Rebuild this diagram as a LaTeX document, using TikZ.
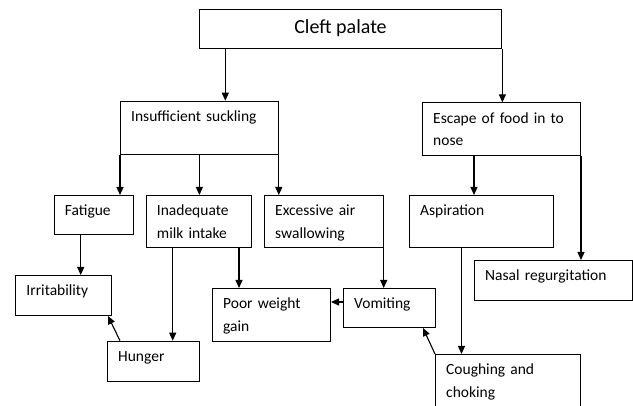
\documentclass[tikz,border=0pt]{standalone}
\usepackage{fontspec}
\setmainfont{Carlito}
\usetikzlibrary{arrows.meta}

\begin{document}
\begin{tikzpicture}[x=1pt, y=-1pt,
  box/.style={draw, line width=1pt, anchor=north west, inner sep=0pt},
  txt/.style={anchor=base west, inner sep=0pt, text width=150pt, align=left, font=\fontsize{15.5}{22.7}\selectfont},
  arr/.style={line width=1.1pt, -{Triangle[length=8pt, width=7pt]}}]
\clip (0,0) rectangle (633,406);
% boxes
\node[box, minimum width=302.8pt, minimum height=39pt] (cleft) at (198.6,9) {};
\node[box, minimum width=157.8pt, minimum height=53.3pt] (suck) at (120,100.7) {};
\node[box, minimum width=158pt, minimum height=53pt] (esc) at (422,102.3) {};
\node[box, minimum width=79.5pt, minimum height=39pt] (fat) at (53.7,195) {};
\node[box, minimum width=105.3pt, minimum height=52.3pt] (milk) at (145.7,195) {};
\node[box, minimum width=118.7pt, minimum height=52.3pt] (air) at (264,195) {};
\node[box, minimum width=144pt, minimum height=52.3pt] (asp) at (409,195) {};
\node[box, minimum width=158pt, minimum height=40pt] (nasal) at (474,260) {};
\node[box, minimum width=95.7pt, minimum height=40pt] (irr) at (15.3,275) {};
\node[box, minimum width=118pt, minimum height=53pt] (poor) at (212,288) {};
\node[box, minimum width=92pt, minimum height=39pt] (vom) at (343,288) {};
\node[box, minimum width=91.6pt, minimum height=40pt] (hung) at (107,340.7) {};
\node[box, minimum width=145pt, minimum height=70pt] (cough) at (435,354) {};
% texts
\node[inner sep=0pt, font=\fontsize{20}{24}\selectfont] (cleft-t) at ([shift={(-10,-1)}]cleft.center) {Cleft palate};
\node[txt] (suck-t) at ([shift={(11,21)}]suck.north west) {Insufficient suckling};
\node[txt] (esc-t) at ([shift={(11,21)}]esc.north west) {Escape of food in to\\nose};
\node[txt] (fat-t) at ([shift={(11,21)}]fat.north west) {Fatigue};
\node[txt] (milk-t) at ([shift={(11,21)}]milk.north west) {Inadequate\\milk intake};
\node[txt] (air-t) at ([shift={(11,21)}]air.north west) {Excessive air\\swallowing};
\node[txt] (asp-t) at ([shift={(11,21)}]asp.north west) {Aspiration};
\node[txt] (nasal-t) at ([shift={(11,21)}]nasal.north west) {Nasal regurgitation};
\node[txt] (irr-t) at ([shift={(11,21)}]irr.north west) {Irritability};
\node[txt] (poor-t) at ([shift={(11,21)}]poor.north west) {Poor weight\\gain};
\node[txt] (vom-t) at ([shift={(11,21)}]vom.north west) {Vomiting};
\node[txt] (hung-t) at ([shift={(11,21)}]hung.north west) {Hunger};
\node[txt] (cough-t) at ([shift={(11,21)}]cough.north west) {Coughing and\\choking};
% arrow starts
\coordinate (c1) at ([xshift=26.7pt]cleft.south west);
\coordinate (e1) at ([xshift=52pt]esc.south west);
\coordinate (f1) at ([xshift=27pt]fat.south west);
\coordinate (m1) at ([xshift=27pt]milk.south west);
\coordinate (m2) at ([xshift=-13pt]milk.south east);
\coordinate (a1) at ([xshift=52.5pt]asp.south west);
\coordinate (v1) at ([yshift=-14pt]vom.north west);
\coordinate (h1) at ([xshift=13pt]hung.north west);
\coordinate (i1) at ([xshift=-4pt]irr.south east);
\coordinate (v2) at ([xshift=-13pt]vom.south east);
% arrows
\draw[arr] (c1) -- (c1 |- suck.north);
\draw[arr] (cleft.south east) -- (cleft.south east |- esc.north);
\draw[arr] (suck.south west) -- (suck.south west |- fat.north);
\draw[arr] (suck.south) -- (suck.south |- milk.north);
\draw[arr] (suck.south east) -- (suck.south east |- air.north);
\draw[arr] (e1) -- (e1 |- asp.north);
\draw[arr] (esc.south east) -- (esc.south east |- nasal.north);
\draw[arr] (f1) -- (f1 |- irr.north);
\draw[arr] (m1) -- (m1 |- hung.north);
\draw[arr] (m2) -- (m2 |- poor.north);
\draw[arr] (air.south east) -- (air.south east |- vom.north);
\draw[arr] (v1) -- (v1 -| poor.east);
\draw[arr] (h1) -- (i1);
\draw[arr] (cough.north west) -- (v2);
\draw[arr] (a1) -- (a1 |- cough.north);
\end{tikzpicture}
\end{document}
